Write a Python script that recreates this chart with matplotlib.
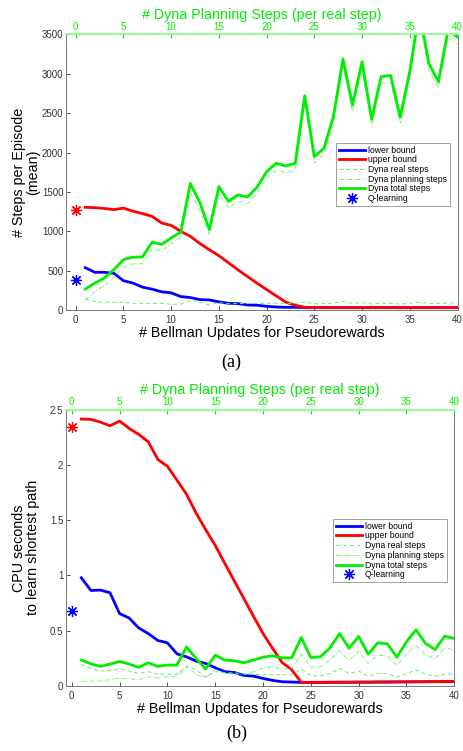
import matplotlib
matplotlib.use('Agg')
import matplotlib.pyplot as plt
import numpy as np

plt.rcParams['font.family'] = ['Liberation Sans', 'DejaVu Sans']

x = np.arange(1, 41)

# panel (a): steps per episode (mean)
a_lower = [538, 479, 479, 466, 372, 342, 290, 265, 231, 218, 171, 158, 132, 128, 103, 85, 81, 64, 60, 47,
           38, 34, 34, 31, 30, 30, 30, 30, 30, 30, 30, 30, 30, 30, 30, 30, 30, 30, 30, 30]
a_upper = [1305, 1300, 1290, 1275, 1295, 1255, 1225, 1190, 1105, 1075, 1000, 936, 845, 765, 690, 600, 510, 425, 340, 260,
           180, 100, 60, 35, 30, 30, 30, 30, 30, 30, 30, 30, 30, 30, 30, 30, 30, 30, 30, 30]
a_real = [137, 107, 98, 98, 98, 85, 85, 85, 85, 73, 73, 120, 98, 64, 94, 81, 81, 85, 85, 85,
          85, 85, 85, 100, 80, 80, 90, 105, 85, 95, 75, 85, 85, 75, 85, 100, 85, 80, 90, 90]
a_plan = [130, 235, 308, 415, 543, 586, 590, 778, 748, 842, 918, 1487, 1270, 957, 1474, 1299, 1381, 1351, 1475, 1672,
          1779, 1745, 1779, 2623, 1868, 1974, 2367, 3084, 2520, 3060, 2348, 2880, 2893, 2373, 2945, 3700, 3049, 2821, 3460, 3380]
a_total = [265, 342, 406, 513, 641, 671, 675, 863, 833, 915, 991, 1607, 1368, 1021, 1568, 1380, 1462, 1436, 1560, 1757,
           1864, 1830, 1864, 2723, 1948, 2054, 2457, 3189, 2605, 3155, 2423, 2965, 2978, 2448, 3030, 3800, 3134, 2901, 3550, 3470]
a_q_lower = 376
a_q_upper = 1265

# panel (b): CPU seconds
b_lower = [0.979, 0.864, 0.867, 0.843, 0.654, 0.614, 0.524, 0.473, 0.410, 0.389, 0.289, 0.262, 0.223, 0.202, 0.163, 0.127, 0.120, 0.093, 0.087, 0.066,
           0.048, 0.036, 0.033, 0.030, 0.030, 0.030, 0.031, 0.031, 0.031, 0.032, 0.032, 0.033, 0.033, 0.034, 0.034, 0.035, 0.035, 0.036, 0.036, 0.037]
b_upper = [2.418, 2.415, 2.390, 2.357, 2.400, 2.333, 2.279, 2.212, 2.052, 1.990, 1.864, 1.736, 1.567, 1.415, 1.273, 1.110, 0.950, 0.790, 0.630, 0.473,
           0.340, 0.210, 0.145, 0.030, 0.030, 0.031, 0.031, 0.032, 0.032, 0.033, 0.033, 0.034, 0.034, 0.035, 0.036, 0.036, 0.037, 0.038, 0.039, 0.040]
b_real = [0.193, 0.157, 0.133, 0.142, 0.151, 0.133, 0.111, 0.127, 0.105, 0.105, 0.105, 0.178, 0.142, 0.081, 0.127, 0.120, 0.115, 0.110, 0.105, 0.100,
          0.100, 0.100, 0.100, 0.150, 0.090, 0.090, 0.110, 0.157, 0.110, 0.133, 0.085, 0.110, 0.110, 0.078, 0.110, 0.142, 0.105, 0.085, 0.105, 0.105]
b_plan = [0.039, 0.042, 0.042, 0.054, 0.069, 0.063, 0.055, 0.081, 0.070, 0.082, 0.082, 0.174, 0.105, 0.070, 0.150, 0.112, 0.111, 0.098, 0.127, 0.159,
          0.171, 0.153, 0.153, 0.287, 0.166, 0.172, 0.233, 0.316, 0.230, 0.313, 0.201, 0.279, 0.270, 0.181, 0.288, 0.364, 0.278, 0.243, 0.344, 0.323]
b_total = [0.232, 0.199, 0.175, 0.196, 0.220, 0.196, 0.166, 0.208, 0.175, 0.187, 0.187, 0.352, 0.247, 0.151, 0.277, 0.232, 0.226, 0.208, 0.232, 0.259,
           0.271, 0.253, 0.253, 0.437, 0.256, 0.262, 0.343, 0.473, 0.340, 0.446, 0.286, 0.389, 0.380, 0.259, 0.398, 0.506, 0.383, 0.328, 0.449, 0.428]
b_q_lower = 0.681
b_q_upper = 2.342

xticks = [0, 5, 10, 15, 20, 25, 30, 35, 40]
GREEN = '#00ee00'
LIGHT = '#66ee66'
W, H = 463, 751


def box(l, t, r, b):
    return [l / W, 1 - b / H, (r - l) / W, (b - t) / H]


def panel(rect, xlim, lower, upper, real, plan, total, ql, qu, ylim, yticks, yticklabels, ylabel, ylab_x, leg_anchor):
    ax = fig.add_axes(rect)
    ax.plot(x, lower, color='blue', lw=2, label='lower bound')
    ax.plot(x, upper, color='red', lw=2, label='upper bound')
    ax.plot(x, real, color=LIGHT, lw=0.7, ls=(0, (4, 3)), label='Dyna real steps')
    ax.plot(x, plan, color=LIGHT, lw=0.6, ls=(0, (5, 2, 1, 2)), label='Dyna planning steps')
    ax.plot(x, total, color=GREEN, lw=2, label='Dyna total steps')
    ax.plot([0], [ql], ls='none', marker=(8, 2, 0), ms=8, mew=0.9, color='blue', label='Q-learning')
    ax.plot([0], [qu], ls='none', marker=(8, 2, 0), ms=8, mew=0.9, color='red')
    ax.set_xlim(*xlim)
    ax.set_ylim(*ylim)
    ax.set_xticks(xticks)
    ax.set_yticks(yticks)
    ax.set_yticklabels(yticklabels)
    ax.tick_params(direction='in', length=3, width=0.6, labelsize=7.0, colors='#333333', top=False, right=False)
    ax.tick_params(axis='y', pad=2)
    for s in ['left', 'right', 'bottom']:
        ax.spines[s].set_color('#777777')
        ax.spines[s].set_linewidth(0.7)
    ax.spines['top'].set_visible(False)
    ax.set_xlabel('# Bellman Updates for Pseudorewards', fontsize=10.3, labelpad=1)
    ax.set_ylabel(ylabel, fontsize=10.3, linespacing=1.0)
    ax.yaxis.set_label_coords(ylab_x, 0.5)

    ax2 = ax.twiny()
    ax2.set_xlim(*xlim)
    ax2.set_xticks(xticks)
    ax2.tick_params(direction='in', length=3, width=0.8, labelsize=7.0, colors=GREEN, pad=2)
    for s in ['left', 'right', 'bottom']:
        ax2.spines[s].set_visible(False)
    ax2.spines['top'].set_color('#88ff88')
    ax2.spines['top'].set_linewidth(1.3)
    ax2.set_xlabel('# Dyna Planning Steps (per real step)', fontsize=10.3, color=GREEN, labelpad=2)

    leg = ax.legend(loc='upper left', bbox_to_anchor=leg_anchor, fontsize=6.2, frameon=True, fancybox=False,
                    edgecolor='#888888', handlelength=3.0, handletextpad=0.4, borderpad=0.3,
                    labelspacing=0.08, borderaxespad=0)
    leg.get_frame().set_linewidth(0.7)
    return ax


fig = plt.figure(figsize=(W / 100, H / 100), dpi=100)

panel(box(66.2, 34.5, 457.5, 310), (-1, 40), a_lower, a_upper, a_real, a_plan, a_total, a_q_lower, a_q_upper,
      (0, 3500), [0, 500, 1000, 1500, 2000, 2500, 3000, 3500],
      ['0', '500', '1000', '1500', '2000', '2500', '3000', '3500'],
      '# Steps per Episode\n(mean)', -0.066, (0.69, 0.606))

panel(box(66, 410, 454.3, 685.7), (-0.6, 40), b_lower, b_upper, b_real, b_plan, b_total, b_q_lower, b_q_upper,
      (0, 2.5), [0, 0.5, 1, 1.5, 2, 2.5], ['0', '0.5', '1', '1.5', '2', '2.5'],
      'CPU seconds\nto learn shortest path', -0.066, (0.688, 0.604))

fig.text(231 / W, 1 - 362 / H, '(a)', fontsize=13, family='Liberation Serif', ha='center', va='center')
fig.text(237 / W, 1 - 733 / H, '(b)', fontsize=13, family='Liberation Serif', ha='center', va='center')

fig.savefig('out.png', dpi=100)
